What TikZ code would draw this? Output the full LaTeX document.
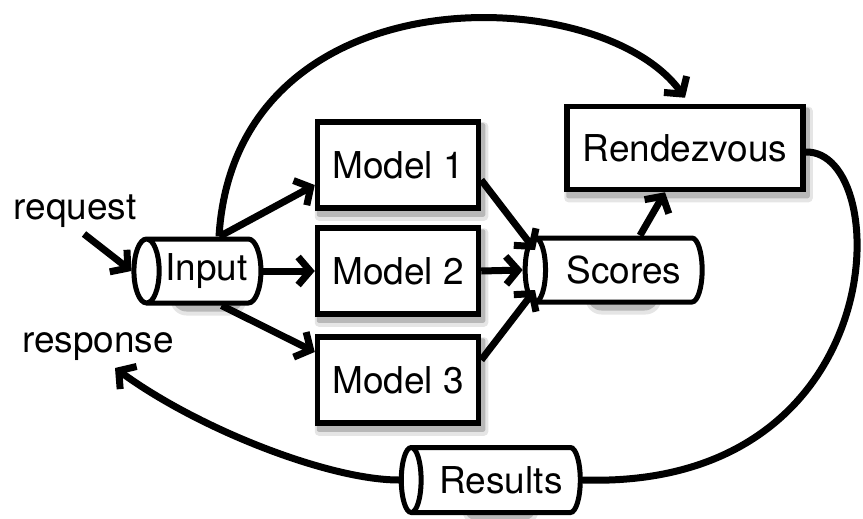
\documentclass[tikz,border=0pt]{standalone}
\usepackage{fontspec}
\setmainfont{TeX Gyre Heros}
\usetikzlibrary{shapes.geometric,arrows.meta,calc,backgrounds}
\begin{document}
\begin{tikzpicture}[x=1pt,y=-1pt,
  every node/.style={font=\fontsize{37}{44}\selectfont},
  box/.style={draw,line width=5.5pt,fill=white,minimum width=161pt,minimum height=86pt,inner sep=0pt},
  cyl/.style={cylinder,shape border rotate=180,draw,line width=5pt,fill=white,
    aspect=0.72,minimum width=64pt,inner xsep=0pt,inner ysep=0pt},
  conn/.style={line width=7pt,-{Straight Barb[length=12pt,width=28pt,line width=7pt]}},
  plain/.style={line width=7pt},
  softshade/.style={fill=black!10,rounded corners=#1},
  darkshade/.style={fill=black!28,rounded corners=#1}]
\useasboundingbox (0,0) rectangle (863,519);

% processing nodes
\node[box] (m1) at (398,165) {Model 1};
\node[box] (m2) at (398,271) {Model 2};
\node[box] (m3) at (398,380) {Model 3};
\node[box,minimum width=236pt,minimum height=83pt] (rv) at (685,148) {Rendezvous};

% queues
\node[cyl,minimum height=127pt] (in) at (205,271) {\hspace*{3pt}Input};
\node[cyl,minimum height=177pt] (sc) at (620,270) {\hspace*{8pt}Scores};
\node[cyl,minimum height=179pt,minimum width=65pt] (rs) at (497,480) {\hspace*{8pt}Results};

% soft drop shadows behind the boxes and queues
\begin{scope}[on background layer]
  \foreach \n in {m1,m2,m3,rv}{
    \fill[softshade=4pt] ($(\n.north west)+(0,3)$) rectangle ($(\n.south east)+(7,10)$);
    \fill[darkshade=2pt] ($(\n.north west)+(2,4)$) rectangle ($(\n.south east)+(4,6)$);
  }
  \foreach \n in {in,sc,rs}{
    \fill[softshade=16pt] ($(\n.north west)+(0,3)$) rectangle ($(\n.south east)+(7,10)$);
    \fill[darkshade=14pt] ($(\n.north west)+(2,4)$) rectangle ($(\n.south east)+(4,6)$);
  }
\end{scope}

% external labels
\node (req) at (75,211) {request};
\node (resp) at (98,347) {response};
\coordinate (reqs) at (84,234);
\coordinate (respe) at (115,368);

% fan-out and fan-in
\draw[conn] (reqs) -- (in.west);
\draw[conn] ($(in.north east)+(-20,0)$) -- (m1.west |- 0,185);
\draw[conn] (in.east) -- (m2.west);
\draw[conn] ($(in.south east)+(-18,0)$) -- (m3.west |- 0,352);
\draw[conn] (m1.east |- 0,180) -- (535,250);
\draw[conn] (m2.east) -- (sc.west);
\draw[conn] (m3.east |- 0,360) -- (535,290);
\draw[conn] ($(sc.north)+(20,0)$) -- ($(rv.south)+(-20,0)$);

% long arcs
\draw[conn] ($(in.north)+(14,0)$) .. controls (235,-30) and (600,-20) .. ($(rv.north)+(0,-6)$);
\draw[plain] (rv.east |- 0,152) .. controls (895,150) and (895,490) .. (rs.east);
\draw[conn] (rs.west) .. controls (330,480) and (200,430) .. (respe);
\end{tikzpicture}
\end{document}
